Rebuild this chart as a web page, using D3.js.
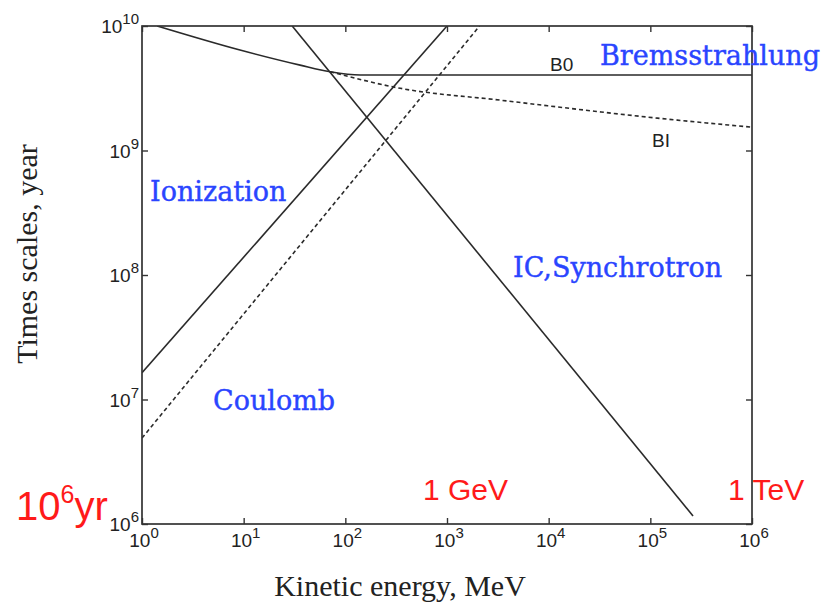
<!DOCTYPE html>
<meta charset="utf-8">
<head>
    <style>
        body {
            margin: 0;
            background: #fff;
        }

        .frame {
            fill: none;
            stroke: #333;
            stroke-width: 1.7;
        }

        .curve {
            fill: none;
            stroke: #2a2a2a;
            stroke-width: 1.6;
        }

        .dashed {
            stroke-dasharray: 4, 3;
        }

        .tick-label {
            font-family: 'Liberation Sans', sans-serif;
            font-size: 19px;
            fill: #222;
        }

        .process {
            font-family: 'DejaVu Serif', serif;
            font-size: 27px;
            fill: #2a45ff;
            stroke: #2a45ff;
            stroke-width: 0.4;
        }

        .red {
            font-family: 'Liberation Sans', sans-serif;
            fill: #ff1a1a;
        }

        .axis-title {
            font-family: 'Liberation Serif', serif;
            font-size: 30px;
            fill: #222;
        }
    </style>
</head>
<body>
    <svg width="837" height="606"></svg>

    <script src="https://d3js.org/d3.v7.min.js"></script>

    <script type="text/javascript">

        // curves, [kinetic energy MeV, time scale yr]
        var ionization = [[1, 1.64e7], [1e3, 1e10]];
        var coulomb = [[1, 4.9e6], [2.09e3, 1e10]];
        var icSynchrotron = [[30, 1e10], [2.63e5, 1.16e6]];
        var bremsB0 = [[1.41, 1e10], [9.2, 6.41e9], [35.9, 4.85e9], [71, 4.29e9], [140, 4.04e9], [1e6, 4.04e9]];
        var bremsBI = [[71, 4.29e9], [347, 3.16e9], [3.3e3, 2.54e9], [1.17e5, 1.82e9], [1e6, 1.54e9]];

        var xTickExp = [0, 1, 2, 3, 4, 5, 6];
        var yTickExp = [6, 7, 8, 9, 10];

        var svg = d3.select("svg");

        var x = d3.scaleLog()
            .domain([1, 1e6])
            .range([142, 752]);

        var y = d3.scaleLog()
            .domain([1e6, 1e10])
            .range([524, 26]);

        var line = d3.line()
            .x(function (d) { return x(d[0]); })
            .y(function (d) { return y(d[1]); })
            .curve(d3.curveMonotoneX);

        svg.append("clipPath")
            .attr("id", "plot")
          .append("rect")
            .attr("x", x(1))
            .attr("y", y(1e10))
            .attr("width", x(1e6) - x(1))
            .attr("height", y(1e6) - y(1e10));

        var curves = [
            { d: ionization, dash: false },
            { d: coulomb, dash: true },
            { d: icSynchrotron, dash: false },
            { d: bremsB0, dash: false },
            { d: bremsBI, dash: true }
        ];

        svg.append("g")
            .attr("clip-path", "url(#plot)")
          .selectAll("path")
          .data(curves)
          .enter().append("path")
            .attr("class", function (c) { return c.dash ? "curve dashed" : "curve"; })
            .attr("d", function (c) { return line(c.d); });

        // inward ticks on all four sides
        var tickLen = 6;
        var xVals = xTickExp.map(function (e) { return Math.pow(10, e); });
        var yVals = yTickExp.map(function (e) { return Math.pow(10, e); });
        var axes = svg.append("g");
        axes.append("g")
            .attr("transform", "translate(0," + y(1e6) + ")")
            .call(d3.axisBottom(x).tickValues(xVals).tickSize(-tickLen).tickFormat(""));
        axes.append("g")
            .attr("transform", "translate(0," + y(1e10) + ")")
            .call(d3.axisTop(x).tickValues(xVals).tickSize(-tickLen).tickFormat(""));
        axes.append("g")
            .attr("transform", "translate(" + x(1) + ",0)")
            .call(d3.axisLeft(y).tickValues(yVals).tickSize(-tickLen).tickFormat(""));
        axes.append("g")
            .attr("transform", "translate(" + x(1e6) + ",0)")
            .call(d3.axisRight(y).tickValues(yVals).tickSize(-tickLen).tickFormat(""));
        axes.selectAll(".domain").remove();
        axes.selectAll(".tick line").attr("stroke", "#333").attr("stroke-width", 1.4);

        svg.append("rect")
            .attr("class", "frame")
            .attr("x", x(1))
            .attr("y", y(1e10))
            .attr("width", x(1e6) - x(1))
            .attr("height", y(1e6) - y(1e10));

        // tick labels 10^n
        function power(sel, e) {
            sel.append("tspan").text("10");
            sel.append("tspan").attr("dy", -9).style("font-size", "15px").text(e);
        }

        svg.append("g")
          .selectAll("text")
          .data(xTickExp)
          .enter().append("text")
            .attr("class", "tick-label")
            .attr("x", function (e) { return x(Math.pow(10, e)) + 2; })
            .attr("y", 547)
            .attr("text-anchor", "middle")
            .each(function (e) { power(d3.select(this), e); });

        svg.append("g")
          .selectAll("text")
          .data(yTickExp)
          .enter().append("text")
            .attr("class", "tick-label")
            .attr("x", 139)
            .attr("y", function (e) { return y(Math.pow(10, e)) + 7; })
            .attr("text-anchor", "end")
            .each(function (e) { power(d3.select(this), e); });

        // axis titles
        svg.append("text")
            .attr("class", "axis-title")
            .attr("x", 400)
            .attr("y", 596)
            .attr("text-anchor", "middle")
            .text("Kinetic energy, MeV");

        svg.append("text")
            .attr("class", "axis-title")
            .attr("transform", "translate(37,254) rotate(-90)")
            .attr("text-anchor", "middle")
            .text("Times scales, year");

        // process labels
        var processes = [
            { t: "Bremsstrahlung", x: 600, y: 65 },
            { t: "Ionization", x: 150, y: 201 },
            { t: "IC,Synchrotron", x: 513, y: 277 },
            { t: "Coulomb", x: 213, y: 410 }
        ];
        svg.append("g")
          .selectAll("text")
          .data(processes)
          .enter().append("text")
            .attr("class", "process")
            .attr("x", function (d) { return d.x; })
            .attr("y", function (d) { return d.y; })
            .text(function (d) { return d.t; });

        svg.append("text").attr("class", "tick-label").attr("x", 550).attr("y", 71).text("B0");
        svg.append("text").attr("class", "tick-label").attr("x", 652).attr("y", 147).text("BI");

        // red annotations
        svg.append("text").attr("class", "red").attr("x", 423).attr("y", 500).style("font-size", "30px").text("1 GeV");
        svg.append("text").attr("class", "red").attr("x", 728).attr("y", 500).style("font-size", "30px").text("1 TeV");

        var yr = svg.append("text").attr("class", "red").attr("x", 16).attr("y", 520).style("font-size", "40px");
        yr.append("tspan").text("10");
        yr.append("tspan").attr("dy", -17).style("font-size", "25px").text("6");
        yr.append("tspan").attr("dy", 17).text("yr");

    </script>
</body>
